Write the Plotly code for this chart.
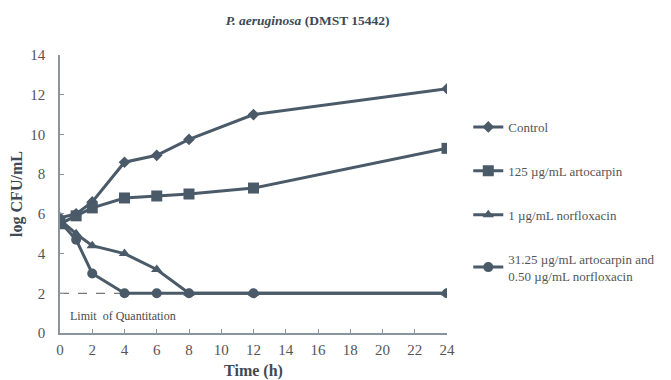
import plotly.graph_objects as go

time_h = [0, 1, 2, 4, 6, 8, 12, 24]
control = [5.8, 6.0, 6.6, 8.6, 8.95, 9.75, 11.0, 12.3]
artocarpin_125 = [5.5, 5.9, 6.3, 6.8, 6.9, 7.0, 7.3, 9.3]
norfloxacin_1 = [5.7, 5.0, 4.4, 4.0, 3.2, 2.0, 2.0, 2.0]
combo = [5.6, 4.7, 3.0, 2.0, 2.0, 2.0, 2.0, 2.0]
loq = 2.0
series_names = ["Control", "125 µg/mL artocarpin", "1 µg/mL norfloxacin",
                "31.25 µg/mL artocarpin and<br>0.50 µg/mL norfloxacin"]
x_ticks = list(range(0, 25, 2))
y_ticks = list(range(0, 15, 2))

color = "#4a5a68"
font = "Liberation Serif, Times New Roman, serif"

fig = go.Figure()
symbols = ["diamond", "square", "triangle-up", "circle"]
sizes = [9, 11, 10, 10]
for i, (name, ys) in enumerate(zip(series_names, [control, artocarpin_125, norfloxacin_1, combo])):
    fig.add_trace(go.Scatter(
        x=time_h, y=ys, name=name, mode="lines+markers",
        line=dict(color=color, width=3),
        marker=dict(symbol=symbols[i], size=sizes[i], color=color),
        legendgroup=f"g{i}",
    ))

fig.add_shape(type="line", xref="x", yref="y", x0=0, x1=24.5, y0=loq, y1=loq,
              line=dict(color="#555555", width=1, dash="dash"), layer="below")
fig.add_annotation(x=3.9, y=0.85, xref="x", yref="y", text="Limit  of Quantitation",
                   showarrow=False, font=dict(family=font, size=12, color="#4a4a4a"))

# page body has an 8px default margin, so the figure is offset by 8px
fig.update_layout(
    width=663, height=372,
    margin=dict(l=52, r=224, t=47, b=47, autoexpand=False),
    paper_bgcolor="white", plot_bgcolor="white",
    title=dict(text="<b><i>P. aeruginosa</i> (DMST 15442)</b>", x=0.452, xanchor="center",
               y=1 - 12 / 372, yref="container", yanchor="middle",
               font=dict(family=font, size=13.5, color="#3d4a56")),
    font=dict(family=font, color="#555555"),
    showlegend=True,
    legend=dict(x=1.055, y=0.795, xanchor="left", yanchor="top", itemwidth=30,
                font=dict(family=font, size=13, color="#555555"),
                tracegroupgap=24, bgcolor="rgba(0,0,0,0)"),
    xaxis=dict(range=[0, 24], tickvals=x_ticks, showline=True, linecolor="#8a949c",
               linewidth=1.5, ticks="inside", ticklen=4, tickcolor="#8a949c",
               showgrid=False, zeroline=False, automargin=False, ticklabelstandoff=2,
               tickfont=dict(family=font, size=15, color="#555555"),
               title=dict(text="<b>Time (h)</b>", standoff=10,
                          font=dict(family=font, size=16, color="#3d4a56"))),
    yaxis=dict(range=[0, 14], tickvals=y_ticks, showline=True, linecolor="#8a949c",
               linewidth=1.5, ticks="inside", ticklen=4, tickcolor="#8a949c",
               showgrid=False, zeroline=False, automargin=False, ticklabelstandoff=10,
               tickfont=dict(family=font, size=15, color="#555555"),
               title=dict(text="<b>log CFU/mL</b>", standoff=12,
                          font=dict(family=font, size=16, color="#3d4a56"))),
)

fig.write_html("out.html")
